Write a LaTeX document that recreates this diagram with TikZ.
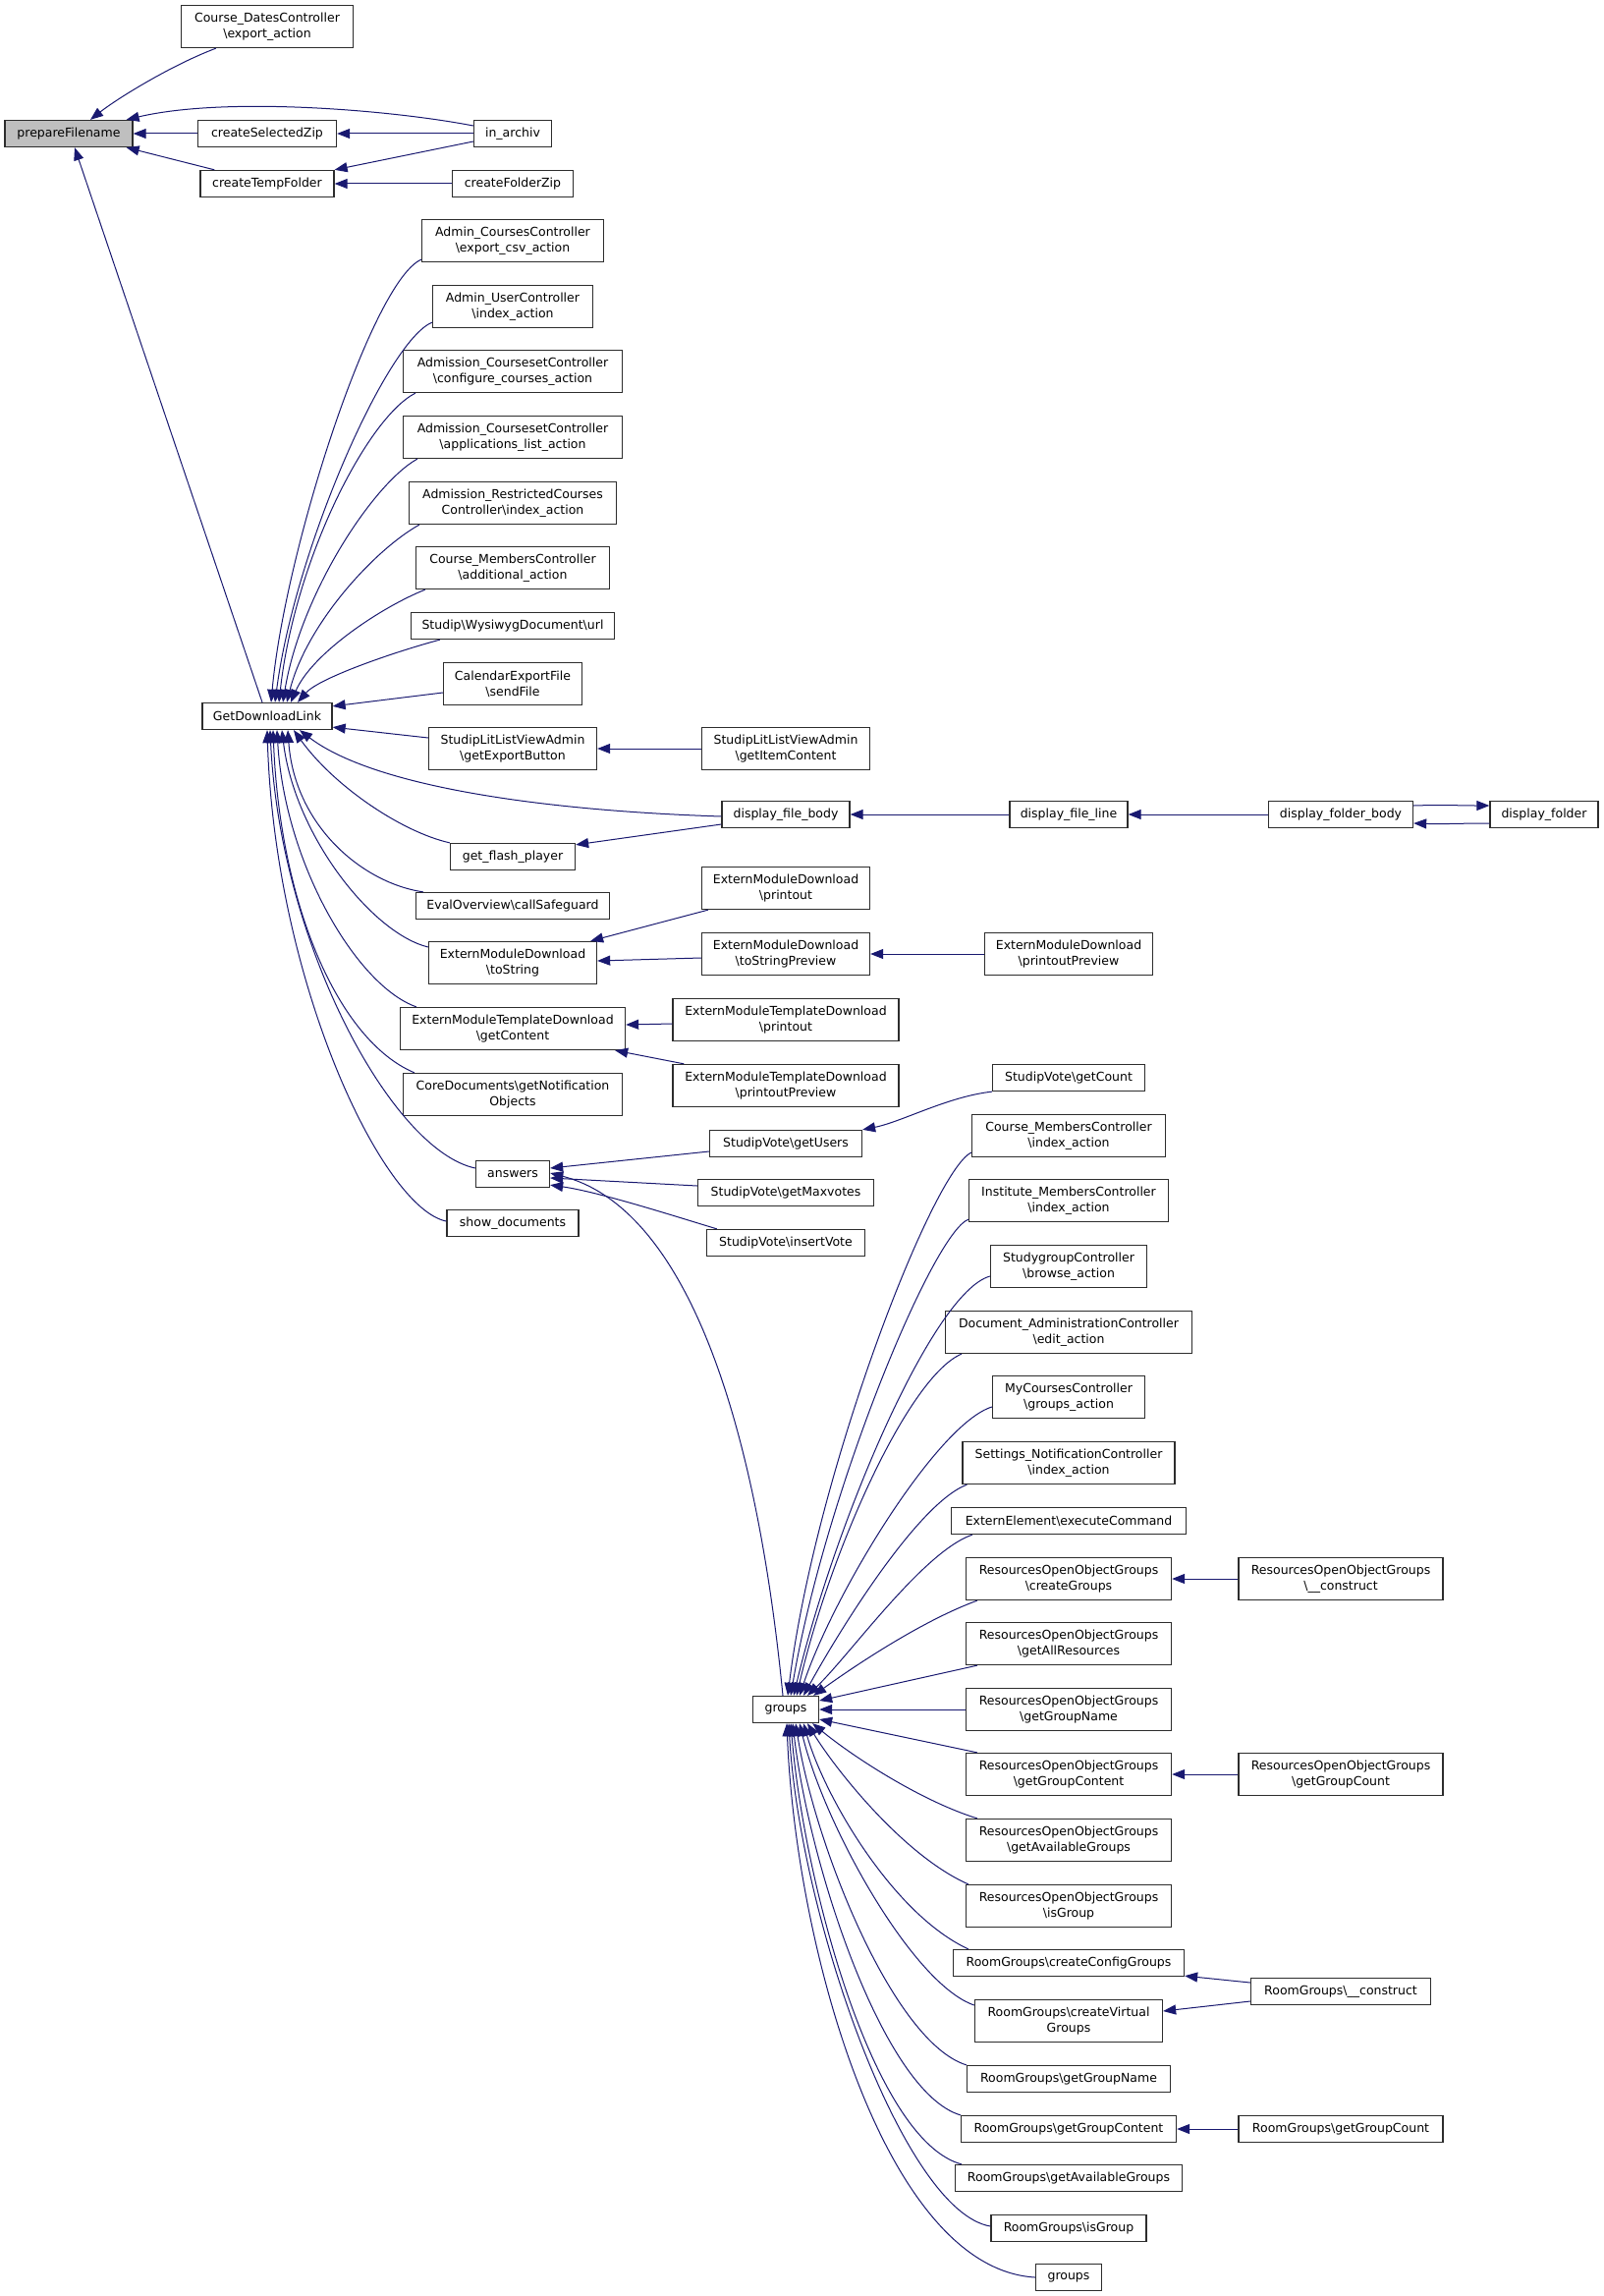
\documentclass[tikz,border=0pt]{standalone}
\usepackage{fontspec}
\setmainfont{DejaVu Sans}
\usetikzlibrary{arrows.meta}
\definecolor{edgeblue}{RGB}{25,25,112}
\definecolor{boxgray}{RGB}{45,45,45}
\definecolor{hlgray}{RGB}{191,191,191}
\newcommand{\fnfont}{\fontsize{12.5bp}{16bp}\selectfont}
\newcommand{\bks}{\textbackslash}
\begin{document}
\begin{tikzpicture}
[x=1bp,y=-1bp
,fn/.style={draw=boxgray,line width=1.3bp,fill=white,font=\fnfont,inner sep=0pt,minimum height=27bp}
,fn2/.style={fn,minimum height=43bp,align=center}
,call/.style={draw=edgeblue,line width=1bp,-{Triangle[length=13bp,width=10bp]}}
]
\useasboundingbox (0,0) rectangle (1632,2337);
\fill[white] (0,0) rectangle (1632,2337);

\node[fn,fill=hlgray,minimum width=130bp] (prep) at (70,136) {prepareFilename};

\node[fn2,minimum width=175bp] (cdc)  at (272,27)  {Course\_DatesController\\\bks export\_action};
\node[fn,minimum width=141bp]  (csz)  at (272,136) {createSelectedZip};
\node[fn,minimum width=136bp]  (ctf)  at (272,187) {createTempFolder};
\node[fn,minimum width=132bp]  (gdl)  at (272,729) {GetDownloadLink};

\node[fn,minimum width=79bp]   (inarch) at (522,136)  {in\_archiv};
\node[fn,minimum width=123bp]  (cfz)    at (522,187)  {createFolderZip};
\node[fn2,minimum width=185bp] (acc)    at (522,245)  {Admin\_CoursesController\\\bks export\_csv\_action};
\node[fn2,minimum width=163bp] (auc)    at (522,312)  {Admin\_UserController\\\bks index\_action};
\node[fn2,minimum width=223bp] (acf)    at (522,378)  {Admission\_CoursesetController\\\bks configure\_courses\_action};
\node[fn2,minimum width=223bp] (aal)    at (522,445)  {Admission\_CoursesetController\\\bks applications\_list\_action};
\node[fn2,minimum width=211bp] (arc)    at (522,512)  {Admission\_RestrictedCourses\\Controller\bks index\_action};
\node[fn2,minimum width=197bp] (cma)    at (522,578)  {Course\_MembersController\\\bks additional\_action};
\node[fn,minimum width=207bp]  (wys)    at (522,637)  {Studip\bks WysiwygDocument\bks url};
\node[fn2,minimum width=141bp] (cal)    at (522,696)  {CalendarExportFile\\\bks sendFile};
\node[fn2,minimum width=171bp] (geb)    at (522,762)  {StudipLitListViewAdmin\\\bks getExportButton};
\node[fn,minimum width=127bp]  (gfp)    at (522,872)  {get\_flash\_player};
\node[fn,minimum width=197bp]  (eval)   at (522,922)  {EvalOverview\bks callSafeguard};
\node[fn2,minimum width=171bp] (emdt)   at (522,980)  {ExternModuleDownload\\\bks toString};
\node[fn2,minimum width=229bp] (emtg)   at (522,1047) {ExternModuleTemplateDownload\\\bks getContent};
\node[fn2,minimum width=223bp] (core)   at (522,1114) {CoreDocuments\bks getNotification\\Objects};
\node[fn,minimum width=75bp]   (ans)    at (522,1195) {answers};
\node[fn,minimum width=134bp]  (shd)    at (522,1245) {show\_documents};

\node[fn2,minimum width=171bp] (gic)   at (800,762)  {StudipLitListViewAdmin\\\bks getItemContent};
\node[fn,minimum width=130bp]  (dfb)   at (800,829)  {display\_file\_body};
\node[fn2,minimum width=171bp] (emdp)  at (800,904)  {ExternModuleDownload\\\bks printout};
\node[fn2,minimum width=171bp] (emdtp) at (800,971)  {ExternModuleDownload\\\bks toStringPreview};
\node[fn2,minimum width=230bp] (emtp)  at (800,1038) {ExternModuleTemplateDownload\\\bks printout};
\node[fn2,minimum width=230bp] (emtpp) at (800,1105) {ExternModuleTemplateDownload\\\bks printoutPreview};
\node[fn,minimum width=155bp]  (svu)   at (800,1164) {StudipVote\bks getUsers};
\node[fn,minimum width=179bp]  (svm)   at (800,1214) {StudipVote\bks getMaxvotes};
\node[fn,minimum width=161bp]  (svi)   at (800,1265) {StudipVote\bks insertVote};
\node[fn,minimum width=67bp]   (grp)   at (800,1740) {groups};

\node[fn,minimum width=120bp]  (dfl)   at (1088,829)  {display\_file\_line};
\node[fn2,minimum width=171bp] (emdpp) at (1088,971)  {ExternModuleDownload\\\bks printoutPreview};
\node[fn,minimum width=155bp]  (svc)   at (1088,1097) {StudipVote\bks getCount};
\node[fn2,minimum width=197bp] (cmi)   at (1088,1156) {Course\_MembersController\\\bks index\_action};
\node[fn2,minimum width=203bp] (imc)   at (1088,1222) {Institute\_MembersController\\\bks index\_action};
\node[fn2,minimum width=159bp] (sgc)   at (1088,1289) {StudygroupController\\\bks browse\_action};
\node[fn2,minimum width=251bp] (dac)   at (1088,1356) {Document\_AdministrationController\\\bks edit\_action};
\node[fn2,minimum width=155bp] (mcc)   at (1088,1422) {MyCoursesController\\\bks groups\_action};
\node[fn2,minimum width=216bp] (snc)   at (1088,1489) {Settings\_NotificationController\\\bks index\_action};
\node[fn,minimum width=239bp]  (eec)   at (1088,1548) {ExternElement\bks executeCommand};
\node[fn2,minimum width=209bp] (rocg)  at (1088,1607) {ResourcesOpenObjectGroups\\\bks createGroups};
\node[fn2,minimum width=209bp] (roar)  at (1088,1673) {ResourcesOpenObjectGroups\\\bks getAllResources};
\node[fn2,minimum width=209bp] (rogn)  at (1088,1740) {ResourcesOpenObjectGroups\\\bks getGroupName};
\node[fn2,minimum width=209bp] (rogc)  at (1088,1806) {ResourcesOpenObjectGroups\\\bks getGroupContent};
\node[fn2,minimum width=209bp] (roag)  at (1088,1873) {ResourcesOpenObjectGroups\\\bks getAvailableGroups};
\node[fn2,minimum width=209bp] (roig)  at (1088,1940) {ResourcesOpenObjectGroups\\\bks isGroup};
\node[fn,minimum width=235bp]  (rgcc)  at (1088,1998) {RoomGroups\bks createConfigGroups};
\node[fn2,minimum width=191bp] (rgcv)  at (1088,2057) {RoomGroups\bks createVirtual\\Groups};
\node[fn,minimum width=207bp]  (rggn)  at (1088,2116) {RoomGroups\bks getGroupName};
\node[fn,minimum width=219bp]  (rggc)  at (1088,2167) {RoomGroups\bks getGroupContent};
\node[fn,minimum width=231bp]  (rgag)  at (1088,2217) {RoomGroups\bks getAvailableGroups};
\node[fn,minimum width=158bp]  (rgig)  at (1088,2268) {RoomGroups\bks isGroup};
\node[fn,minimum width=67bp]   (grp2)  at (1088,2318) {groups};

\node[fn,minimum width=147bp]  (dfob)   at (1365,829)  {display\_folder\_body};
\node[fn2,minimum width=208bp] (rocon)  at (1365,1607) {ResourcesOpenObjectGroups\\\bks \_\_construct};
\node[fn2,minimum width=208bp] (rogcnt) at (1365,1806) {ResourcesOpenObjectGroups\\\bks getGroupCount};
\node[fn,minimum width=183bp]  (rgcon)  at (1365,2027) {RoomGroups\bks \_\_construct};
\node[fn,minimum width=208bp]  (rggcnt) at (1365,2167) {RoomGroups\bks getGroupCount};

\node[fn,minimum width=110bp]  (dfo)    at (1572,829)  {display\_folder};

% callers of prepareFilename
\draw [call] ([xshift=36bp]cdc.south west) .. controls +(-45,17) and +(28,-22) .. ([xshift=22bp]prep.north);
\draw [call] ([yshift=8bp]inarch.west) .. controls +(-83,-16) and +(102,-24) .. ([xshift=-7bp]prep.north east);
\draw [call] (csz) -- (prep);
\draw [call] ([xshift=15bp]ctf.north west) -- ([xshift=-7bp]prep.south east);
\draw [call] ([xshift=-5bp]gdl.north) -- ([xshift=6bp]prep.south);
\draw [call] (inarch) -- (csz);
\draw [call] ([yshift=-8bp]inarch.west) -- (ctf.north east);
\draw [call] (cfz) -- (ctf);

% callers of GetDownloadLink
\draw [call] ([yshift=3bp]acc.south west) .. controls +(-50,22) and +(14,-155) .. ([xshift=4bp]gdl.north);
\draw [call] ([yshift=6bp]auc.south west) .. controls +(-46,19) and +(20,-155) .. ([xshift=8bp]gdl.north);
\draw [call] ([xshift=13bp]acf.south west) .. controls +(-49,25) and +(16,-145) .. ([xshift=12bp]gdl.north);
\draw [call] ([xshift=15bp]aal.south west) .. controls +(-45,25) and +(18,-110) .. ([xshift=16bp]gdl.north);
\draw [call] ([xshift=11bp]arc.south west) .. controls +(-45,25) and +(20,-80) .. ([xshift=20bp]gdl.north);
\draw [call] ([xshift=10bp]cma.south west) .. controls +(-45,18) and +(22,-50) .. ([xshift=24bp]gdl.north);
\draw [call] ([xshift=30bp]wys.south west) .. controls +(-45,12) and +(22,-25) .. ([xshift=31bp]gdl.north);
\draw [call] ([yshift=-9bp]cal.west) -- ([yshift=-4bp]gdl.north east);
\draw [call] ([yshift=11bp]geb.west) -- ([yshift=3bp]gdl.south east);
\draw [call] ([yshift=-2bp]dfb.west) .. controls +(-185,-6) and +(75,57) .. ([xshift=33bp]gdl.south);
\draw [call] (gfp.north west) .. controls +(-49,-11) and +(41,57) .. ([xshift=27bp]gdl.south);
\draw [call] ([xshift=8bp]eval.north west) .. controls +(-62,-9) and +(7,97) .. ([xshift=21bp]gdl.south);
\draw [call] ([yshift=16bp]emdt.west) .. controls +(-57,-14) and +(13,107) .. ([xshift=15bp]gdl.south);
\draw [call] ([xshift=17bp]emtg.north west) .. controls +(-60,-21) and +(8,137) .. ([xshift=10bp]gdl.south);
\draw [call] ([xshift=12bp]core.north west) .. controls +(-78,-33) and +(7,177) .. ([xshift=6bp]gdl.south);
\draw [call] ([yshift=6bp]ans.west) .. controls +(-85,-18) and +(10,217) .. ([xshift=3bp]gdl.south);
\draw [call] ([yshift=2bp]shd.west) .. controls +(-65,-13) and +(8,257) .. (gdl.south);

% the rest of the chain
\draw [call] (gic) -- (geb);
\draw [call] ([yshift=-10bp]dfb.west) -- ([yshift=-2bp]gfp.north east);
\draw [call] (dfl) -- (dfb);
\draw [call] (dfob) -- (dfl);
\draw [call] ([yshift=9bp]dfob.east) .. controls +(30,-1) and +(-30,0) .. ([yshift=9bp]dfo.west);
\draw [call] ([yshift=-9bp]dfo.west) .. controls +(-30,0) and +(30,1) .. ([yshift=-9bp]dfob.east);
\draw [call] ([xshift=7bp]emdp.south west) -- ([xshift=-7bp]emdt.north east);
\draw [call] ([yshift=-4bp]emdtp.west) -- ([yshift=2bp]emdt.east);
\draw [call] (emdpp) -- (emdtp);
\draw [call] ([yshift=-4bp]emtp.west) -- ([yshift=4bp]emtg.east);
\draw [call] ([xshift=12bp]emtpp.north west) -- ([xshift=-11bp]emtg.south east);

% callers of answers
\draw [call] ([yshift=-8bp]svu.west) -- ([yshift=6bp]ans.east);
\draw [call] (svc.south west) .. controls +(-45,5) and +(40,-8) .. (svu.north east);
\draw [call] ([yshift=7bp]svm.west) -- ([yshift=-4bp]ans.east);
\draw [call] ([xshift=11bp]svi.north west) .. controls +(-40,-12) and +(50,7) .. ([yshift=3bp]ans.south east);
\draw [call] ([xshift=-3bp]grp.north) .. controls +(-27,-276) and +(140,36) .. ([yshift=1bp]ans.east);

% callers of groups
\draw [call] ([yshift=5bp]cmi.south west) .. controls +(-39,18) and +(28,-227) .. ([xshift=2bp]grp.north);
\draw [call] ([yshift=3bp]imc.south west) .. controls +(-36,14) and +(35,-207) .. ([xshift=5bp]grp.north);
\draw [call] ([yshift=-10bp]sgc.west) .. controls +(-58,16) and +(42,-177) .. ([xshift=8bp]grp.north);
\draw [call] ([xshift=17bp]dac.south west) .. controls +(-54,23) and +(34,-147) .. ([xshift=11bp]grp.north);
\draw [call] ([yshift=-10bp]mcc.west) .. controls +(-55,17) and +(36,-107) .. ([xshift=14bp]grp.north);
\draw [call] ([xshift=5bp]snc.south west) .. controls +(-50,19) and +(37,-67) .. ([xshift=18bp]grp.north);
\draw [call] ([xshift=22bp]eec.south west) .. controls +(-50,17) and +(43,-41) .. ([xshift=22bp]grp.north);
\draw [call] ([xshift=12bp]rocg.south west) .. controls +(-55,20) and +(43,-31) .. ([xshift=-6bp]grp.north east);
\draw [call] ([xshift=12bp]roar.south west) -- ([yshift=9bp]grp.east);
\draw [call] (rogn) -- (grp);
\draw [call] ([xshift=12bp]rogc.north west) -- ([yshift=-10bp]grp.east);
\draw [call] ([xshift=12bp]roag.north west) .. controls +(-55,-17) and +(44,36) .. ([xshift=-7bp]grp.south east);
\draw [call] ([xshift=3bp]roig.north west) .. controls +(-66,-29) and +(28,46) .. ([xshift=22bp]grp.south);
\draw [call] ([xshift=16bp]rgcc.north west) .. controls +(-76,-35) and +(22,76) .. ([xshift=18bp]grp.south);
\draw [call] ([yshift=16bp]rgcv.west) .. controls +(-62,-21) and +(26,106) .. ([xshift=14bp]grp.south);
\draw [call] (rggn.north west) .. controls +(-74,-23) and +(20,126) .. ([xshift=10bp]grp.south);
\draw [call] (rggc.north west) .. controls +(-78,-23) and +(17,146) .. ([xshift=7bp]grp.south);
\draw [call] ([xshift=7bp]rgag.north west) .. controls +(-89,-24) and +(14,166) .. ([xshift=5bp]grp.south);
\draw [call] ([yshift=2bp]rgig.west) .. controls +(-89,-15) and +(11,196) .. ([xshift=3bp]grp.south);
\draw [call] (grp2.west) .. controls +(-154,-9) and +(9,226) .. ([xshift=1bp]grp.south);

\draw [call] (rocon) -- (rocg);
\draw [call] (rogcnt) -- (rogc);
\draw [call] ([yshift=9bp]rgcon.west) -- ([yshift=1bp]rgcc.south east);
\draw [call] ([yshift=-10bp]rgcon.west) -- ([yshift=10bp]rgcv.east);
\draw [call] (rggcnt) -- (rggc);

\end{tikzpicture}
\end{document}
